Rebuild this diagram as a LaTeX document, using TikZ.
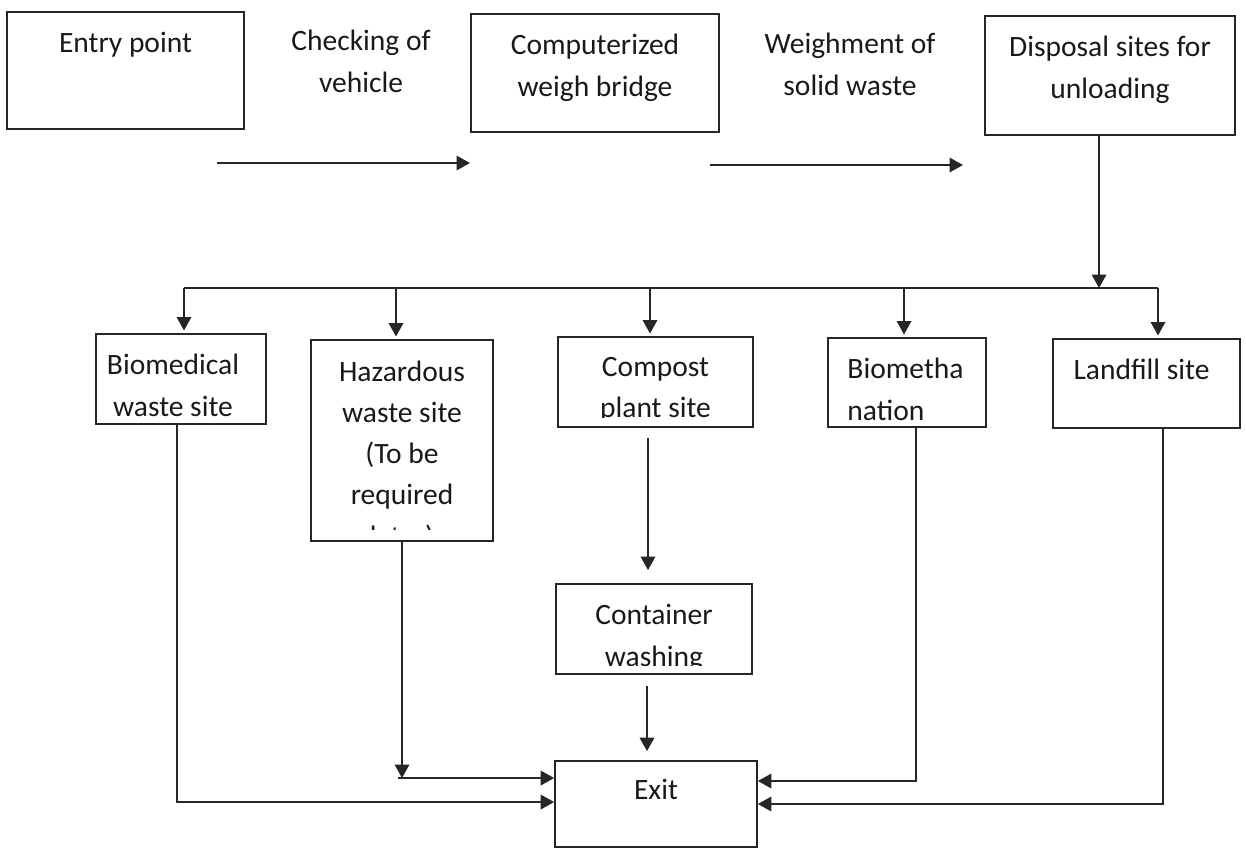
\documentclass[tikz,border=0pt]{standalone}
\usepackage{fontspec}
\setmainfont{Carlito}
\usetikzlibrary{arrows.meta,positioning,calc}

\begin{document}
\begin{tikzpicture}[x=0.02cm, y=-0.02cm,
    stagebox/.style={draw=black!85, line width=1pt, inner sep=0pt},
    lbl/.style={align=center, inner sep=0pt, font=\fontsize{16.8}{23.5}\selectfont, text=black!90},
    arr/.style={draw=black!85, line width=1.1pt, -{Triangle[length=0.27cm,width=0.29cm]}},
    ln/.style={draw=black!85, line width=1.1pt}]
    \useasboundingbox (0,0) rectangle (1246,850);
    % Top row
    \node[stagebox, minimum width=4.74cm, minimum height=2.34cm] (entry) at (125.5,70.5) {};
    \node[stagebox, minimum width=4.96cm, minimum height=2.36cm] (bridge) at (595,73) {};
    \node[stagebox, minimum width=5.0cm, minimum height=2.38cm] (disposal) at (1110,75.5) {};
    \node[lbl, below=0.42cm of entry.north] (entrytxt) {Entry point};
    \node[lbl, anchor=north] (checktxt) at (361,30) {Checking of\\vehicle};
    \node[lbl, below=0.42cm of bridge.north] (bridgetxt) {Computerized\\weigh bridge};
    \node[lbl, anchor=north] (weightxt) at (850,33) {Weighment of\\solid waste};
    \node[lbl, below=0.42cm of disposal.north] (disposaltxt) {Disposal sites for\\unloading};
    % Arrows between top boxes
    \coordinate (chk1) at (217,163);
    \coordinate (chk2) at (470,163);
    \coordinate (wgt1) at (710,165);
    \coordinate (wgt2) at (963,165);
    \draw[arr] (chk1) -- (chk2);
    \draw[arr] (wgt1) -- (wgt2);
    % Disposal sites
    \node[stagebox, minimum width=3.4cm, minimum height=1.8cm] (biomed) at (181,379) {};
    \node[stagebox, minimum width=3.64cm, minimum height=4.02cm] (hazard) at (402,440.5) {};
    \node[stagebox, minimum width=3.9cm, minimum height=1.8cm] (compost) at (655.5,382) {};
    \node[stagebox, minimum width=3.16cm, minimum height=1.78cm] (biometh) at (907,382.5) {};
    \node[stagebox, minimum width=3.74cm, minimum height=1.78cm] (landfill) at (1146.5,383.5) {};
    \node[lbl, below=0.42cm of biomed.north, xshift=-0.16cm] (biomedtxt) {Biomedical\\waste site};
    \begin{scope}
      \clip (hazard.north west) rectangle ([yshift=0.24cm]hazard.south east);
      \node[lbl, below=0.42cm of hazard.north] (hazardtxt) {Hazardous\\waste site\\(To be\\required\\later)};
    \end{scope}
    \begin{scope}
      \clip (compost.north west) rectangle ([yshift=0.2cm]compost.south east);
      \node[lbl, below=0.42cm of compost.north] (composttxt) {Compost\\plant site};
    \end{scope}
    \node[lbl, align=left, anchor=north west] (biomethtxt) at ([xshift=0.4cm,yshift=-0.42cm]biometh.north west) {Biometha\\nation};
    \node[lbl, below=0.42cm of landfill.north, xshift=-0.1cm] (landfilltxt) {Landfill site};
    % Bus to the sites
    \coordinate (busL) at (184,288);
    \coordinate (busR) at (1158,288);
    \coordinate (dropD) at ([xshift=-0.22cm]disposal.south);
    \draw[arr] (dropD) -- (dropD |- busR);
    \draw[ln] (busL) -- (busR);
    \foreach \n/\x in {biomed/184, hazard/396, compost/650, biometh/904, landfill/1158}{
      \coordinate (drop-\n) at (\x,288);
      \draw[arr, shorten >=1.5pt] (drop-\n) -- (drop-\n |- \n.north);
    }
    % Washing and exit
    \node[stagebox, minimum width=3.92cm, minimum height=1.8cm] (washing) at (654,629) {};
    \begin{scope}
      \clip (washing.north west) rectangle ([yshift=0.18cm]washing.south east);
      \node[lbl, below=0.42cm of washing.north] (washingtxt) {Container\\washing};
    \end{scope}
    \node[stagebox, minimum width=4.04cm, minimum height=1.72cm] (exit) at (656,804) {};
    \node[lbl, below=0.38cm of exit.north] (exittxt) {Exit};
    % Connectors to exit
    \coordinate (bmIn) at ([yshift=0.04cm]exit.west);
    \coordinate (hzIn) at ([yshift=0.52cm]exit.west);
    \coordinate (bnIn) at ([yshift=0.46cm]exit.east);
    \coordinate (lfIn) at (exit.east);
    \coordinate (bmOut) at ([xshift=-0.08cm]biomed.south);
    \draw[arr] (bmOut) |- (bmIn);
    \draw[arr] (hazard.south) -- (hazard.south |- hzIn);
    \draw[arr] ([xshift=-0.08cm]hazard.south |- hzIn) -- (hzIn);
    \coordinate (cpOut) at ([xshift=-0.15cm,yshift=-0.2cm]compost.south);
    \draw[arr, shorten >=0.26cm] (cpOut) -- (cpOut |- washing.north);
    \coordinate (wsOut) at ([xshift=-0.14cm,yshift=-0.22cm]washing.south);
    \draw[arr, shorten >=0.18cm] (wsOut) -- (wsOut |- exit.north);
    \coordinate (bnOut) at ([xshift=0.18cm]biometh.south);
    \draw[arr] (bnOut) |- (bnIn);
    \coordinate (lfOut) at ([xshift=0.33cm]landfill.south);
    \draw[arr] (lfOut) |- (lfIn);
\end{tikzpicture}
\end{document}
